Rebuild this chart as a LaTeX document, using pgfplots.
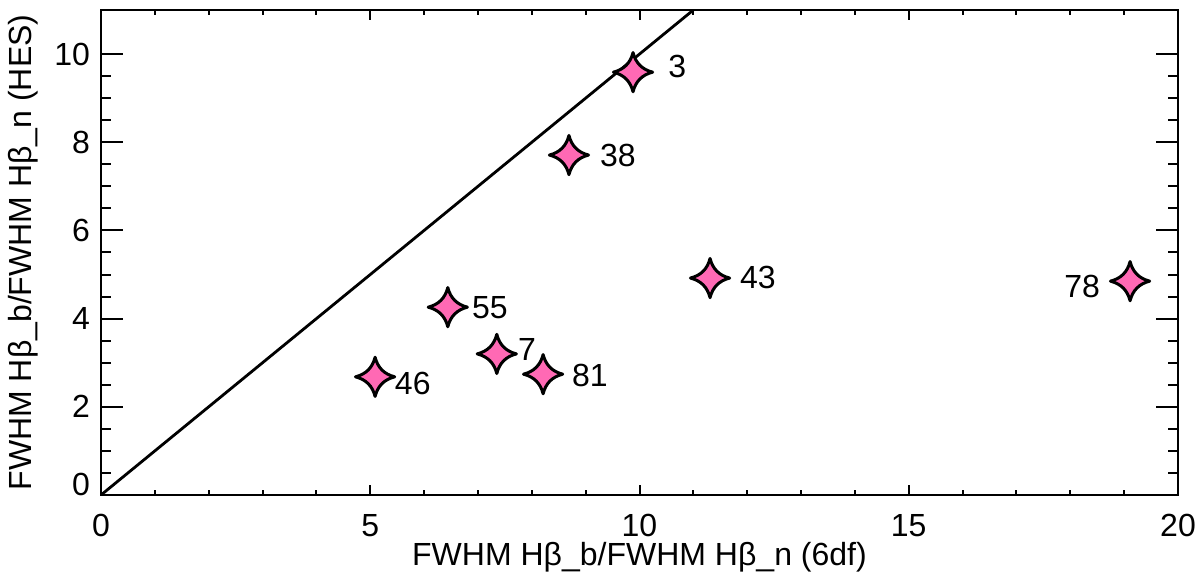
\documentclass[border=0pt]{standalone}
\usepackage{fontspec}
\setmainfont{Liberation Sans}
\usepackage{pgfplots}
\pgfplotsset{compat=1.18}
\definecolor{starpink}{RGB}{255,105,180}
\pgfdeclareplotmark{star4}{%
  \pgfpathmoveto{\pgfqpoint{0pt}{\pgfplotmarksize}}%
  \pgfpathquadraticcurveto{\pgfqpoint{0.2\pgfplotmarksize}{0.2\pgfplotmarksize}}{\pgfqpoint{\pgfplotmarksize}{0pt}}%
  \pgfpathquadraticcurveto{\pgfqpoint{0.2\pgfplotmarksize}{-0.2\pgfplotmarksize}}{\pgfqpoint{0pt}{-\pgfplotmarksize}}%
  \pgfpathquadraticcurveto{\pgfqpoint{-0.2\pgfplotmarksize}{-0.2\pgfplotmarksize}}{\pgfqpoint{-\pgfplotmarksize}{0pt}}%
  \pgfpathquadraticcurveto{\pgfqpoint{-0.2\pgfplotmarksize}{0.2\pgfplotmarksize}}{\pgfqpoint{0pt}{\pgfplotmarksize}}%
  \pgfpathclose
  \pgfusepathqfillstroke
}
\begin{document}
\fontsize{16}{19}\selectfont
\begin{tikzpicture}
\begin{axis}[
  scale only axis,
  width=538.5pt, height=242.5pt,
  xmin=0, xmax=20, ymin=0, ymax=11,
  xtick={0,5,10,15,20},
  ytick={0,2,4,6,8,10},
  yticklabels={\raisebox{11pt}{0},2,4,6,8,10},
  minor x tick num=4,
  minor y tick num=3,
  tick align=inside,
  axis line style={line width=1.15pt},
  every tick/.style={black, line width=1pt},
  xtick style={/pgfplots/major tick length=5pt,/pgfplots/minor tick length=2.5pt},
  ytick style={/pgfplots/major tick length=11pt,/pgfplots/minor tick length=5pt},
  /pgf/number format/assume math mode=true,
  xticklabel style={inner sep=0pt, anchor=north, yshift=-9.3pt},
  xlabel={FWHM Hβ\_b/FWHM Hβ\_n (6df)},
  ylabel={FWHM Hβ\_b/FWHM Hβ\_n (HES)},
  every axis x label/.style={at={(axis description cs:0.5,-0.1455)},anchor=base},
  every axis y label/.style={at={(axis description cs:-0.0641,0.5)},rotate=90,anchor=base},
  clip=true,
]
\addplot[black, line width=1.4pt, no marks] coordinates {(0,0) (11,11)};
\addplot[only marks, mark=star4, mark size=9.8pt,
  mark options={fill=starpink, draw=black, line width=1.5pt, line join=round}] coordinates {
  (9.88,9.59) (8.69,7.71) (11.31,4.92) (19.11,4.85)
  (6.44,4.26) (7.35,3.20) (8.21,2.74) (5.09,2.68)
};
\node[inner sep=0pt] at (axis cs:10.70,9.71) {3};
\node[inner sep=0pt] at (axis cs:9.60,7.71) {38};
\node[inner sep=0pt] at (axis cs:12.20,4.94) {43};
\node[inner sep=0pt] at (axis cs:18.22,4.74) {78};
\node[inner sep=0pt] at (axis cs:7.22,4.26) {55};
\node[inner sep=0pt] at (axis cs:7.91,3.29) {7};
\node[inner sep=0pt] at (axis cs:9.08,2.70) {81};
\node[inner sep=0pt] at (axis cs:5.79,2.54) {46};
\coordinate (SW) at (rel axis cs:0,0);
\coordinate (NE) at (rel axis cs:1,1);
\end{axis}
\pgfresetboundingbox
\path ([shift={(-50.5pt,-44pt)}]SW) rectangle ([shift={(11pt,5pt)}]NE);
\end{tikzpicture}
\end{document}
